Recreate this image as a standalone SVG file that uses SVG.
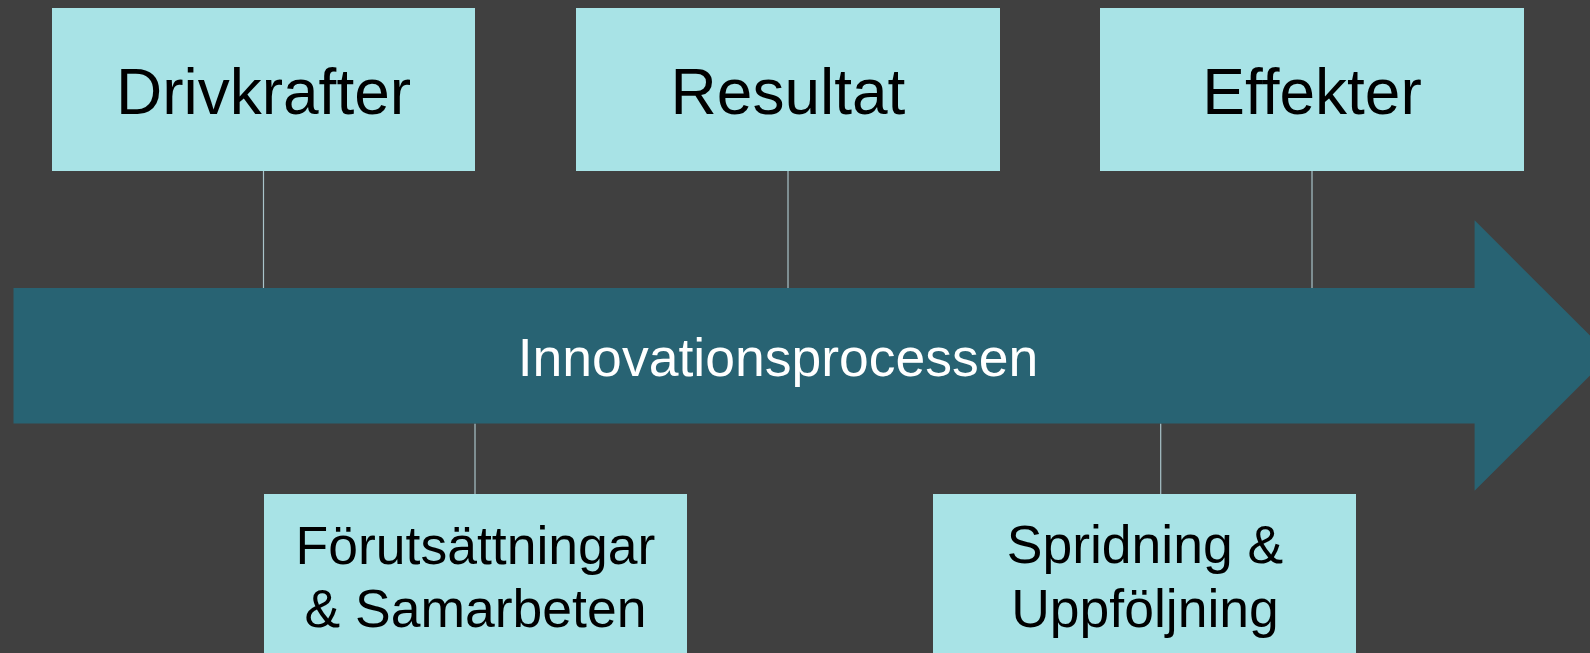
<svg xmlns="http://www.w3.org/2000/svg" width="1590" height="653" viewBox="0 0 1590 653">
<style>
.box{fill:#A8E3E6;}
.lbl{font-family:"Liberation Sans",Arial,sans-serif;fill:#000;text-anchor:middle;}
.big{font-size:64px;}
.mid{font-size:53.5px;}
.conn{stroke:#A9C4CA;stroke-width:1.2;fill:none;}
</style>
<rect x="0" y="0" width="1590" height="653" fill="#404040"/>
<g id="connectors">
<line class="conn" x1="263.5" y1="171" x2="263.5" y2="288"/>
<line class="conn" x1="788" y1="171" x2="788" y2="288"/>
<line class="conn" x1="1312" y1="171" x2="1312" y2="288"/>
<line class="conn" x1="475" y1="423.5" x2="475" y2="494"/>
<line class="conn" x1="1160.7" y1="423.5" x2="1160.7" y2="494"/>
</g>
<g id="arrow">
<polygon points="13.5,288 1474.6,288 1474.6,220.3 1610,355.6 1474.6,490.7 1474.6,423.5 13.5,423.5" fill="#286373"/>
<text x="778" y="376" class="lbl mid" style="fill:#fff">Innovationsprocessen</text>
</g>
<g id="drivkrafter">
<rect class="box" x="52" y="8" width="423" height="163"/>
<text class="lbl big" x="263.5" y="114">Drivkrafter</text>
</g>
<g id="resultat">
<rect class="box" x="576" y="8" width="424" height="163"/>
<text class="lbl big" x="788" y="114">Resultat</text>
</g>
<g id="effekter">
<rect class="box" x="1100" y="8" width="424" height="163"/>
<text class="lbl big" x="1312" y="114">Effekter</text>
</g>
<g id="forutsattningar">
<rect class="box" x="264" y="494" width="423" height="170"/>
<text class="lbl mid" x="475.5" y="564">Förutsättningar</text>
<text class="lbl mid" x="475.5" y="626.7">&amp; Samarbeten</text>
</g>
<g id="spridning">
<rect class="box" x="933" y="494" width="423" height="170"/>
<text class="lbl mid" x="1145" y="563.3">Spridning &amp;</text>
<text class="lbl mid" x="1145" y="626.7">Uppföljning</text>
</g>
</svg>
